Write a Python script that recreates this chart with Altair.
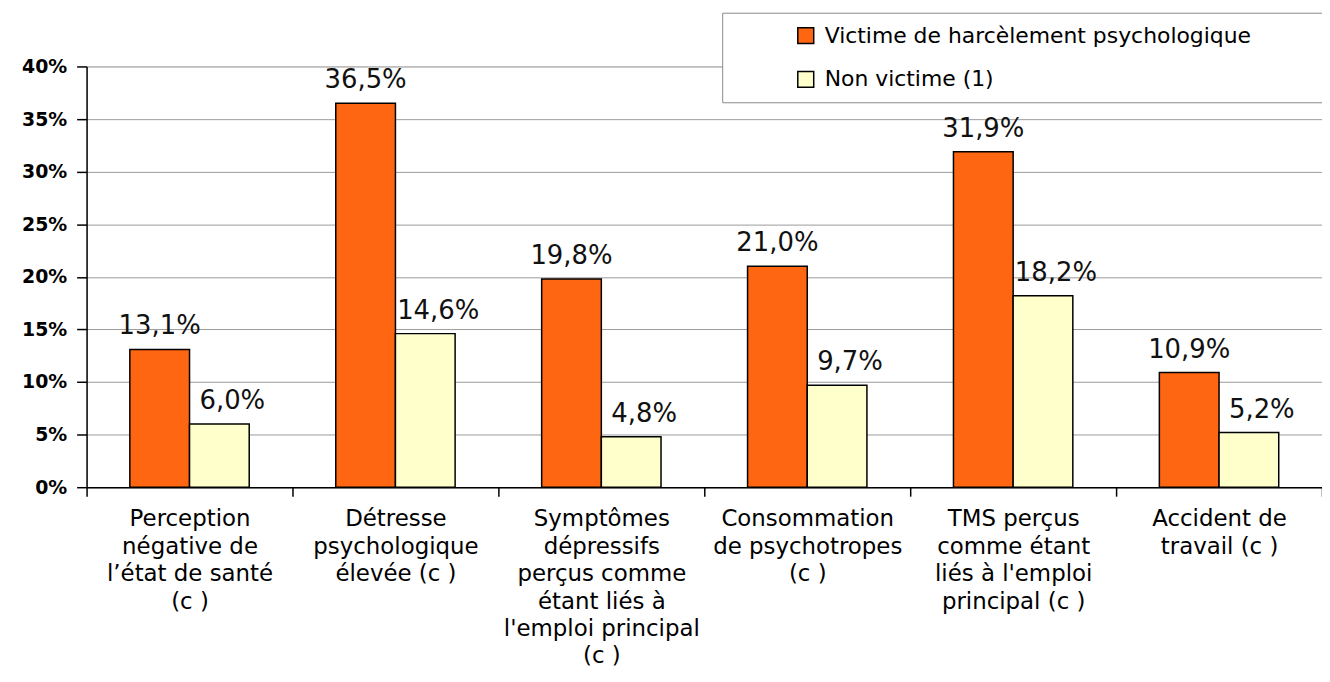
import altair as alt
import pandas as pd

categories = [
    "Perception|négative de|l’état de santé|(c )",
    "Détresse|psychologique|élevée (c )",
    "Symptômes|dépressifs|perçus comme|étant liés à|l'emploi principal|(c )",
    "Consommation|de psychotropes|(c )",
    "TMS perçus|comme étant|liés à l'emploi|principal (c )",
    "Accident de|travail (c )",
]
series = ["Victime de harcèlement psychologique", "Non victime (1)"]
victime = [13.1, 36.5, 19.8, 21.0, 31.9, 10.9]
non_victime = [6.0, 14.6, 4.8, 9.7, 18.2, 5.2]
colors = ["#FF6611", "#FFFFCC"]
y_ticks = [0, 5, 10, 15, 20, 25, 30, 35, 40]

rows = []
for c, v1, v2 in zip(categories, victime, non_victime):
    rows.append({"cat": c, "series": series[0], "value": v1})
    rows.append({"cat": c, "series": series[1], "value": v2})
df = pd.DataFrame(rows)

FONT = "DejaVu Sans"
blank_tail = "\u2800" * 14

base = alt.Chart(df).transform_calculate(
    lab="replace(format(datum.value, '.1f'), '.', ',') + '%'"
).encode(
    x=alt.X(
        "cat:N",
        sort=categories,
        title=None,
        scale=alt.Scale(paddingInner=0, paddingOuter=0),
        axis=alt.Axis(
            labelExpr="split(datum.label, '|')",
            labelAngle=0,
            labelLimit=0,
            labelFont=FONT,
            labelFontSize=23,
            labelLineHeight=27.5,
            labelColor="black",
            labelPadding=12,
            labelBaseline="top",
            tickBand="extent",
            tickColor="black",
            tickSize=9,
            tickWidth=1.5,
            domainColor="black",
            domainWidth=1.5,
            grid=False,
        ),
    ),
    xOffset=alt.XOffset(
        "series:N", sort=series,
        scale=alt.Scale(paddingInner=0, paddingOuter=0.725),
    ),
    y=alt.Y(
        "value:Q",
        title=None,
        scale=alt.Scale(domain=[0, 40], nice=False),
        axis=alt.Axis(
            values=y_ticks,
            labelExpr="datum.value + '%'",
            labelFont=FONT,
            labelFontWeight="bold",
            labelFontSize=19,
            labelColor="black",
            labelPadding=10,
            tickColor="black",
            tickSize=10,
            tickWidth=1.5,
            domainColor="black",
            domainWidth=1.5,
            grid=True,
            gridColor="#9a9a9a",
            gridWidth=1,
        ),
    ),
)

bars = base.mark_bar(stroke="black", strokeWidth=1.5).encode(
    color=alt.Color(
        "series:N",
        sort=series,
        scale=alt.Scale(domain=series, range=colors),
        legend=alt.Legend(
            title="MMM",
            titleOpacity=0,
            titleOrient="left",
            titleFont=FONT,
            titleFontSize=20,
            titlePadding=1,
            orient="none",
            legendX=639,
            legendY=-54,
            direction="vertical",
            symbolType="square",
            symbolSize=256,
            symbolStrokeColor="black",
            symbolStrokeWidth=1.5,
            labelFont=FONT,
            labelFontSize=22,
            labelColor="black",
            labelOffset=8,
            labelLimit=0,
            labelExpr="datum.label + '" + blank_tail + "'",
            rowPadding=22,
            padding=12,
            strokeColor="#8a8a8a",
            fillColor="white",
        ),
    )
)

labels_v = base.transform_filter(alt.datum.series == series[0]).mark_text(
    font=FONT, fontSize=26, color="#111111", baseline="alphabetic", dy=-15
).encode(text="lab:N")

labels_n = base.transform_filter(alt.datum.series == series[1]).mark_text(
    font=FONT, fontSize=26, color="#111111", baseline="alphabetic", dy=-15, dx=13
).encode(text="lab:N")

chart = alt.layer(bars, labels_v, labels_n).properties(
    width=1242,
    height=423,
    autosize=alt.AutoSizeParams(type="none"),
    padding={"left": 79, "top": 57, "right": 0, "bottom": 180},
).configure_view(stroke=None).configure(background="white")

chart.save("out.html", embed_options={"renderer": "svg", "actions": False})
